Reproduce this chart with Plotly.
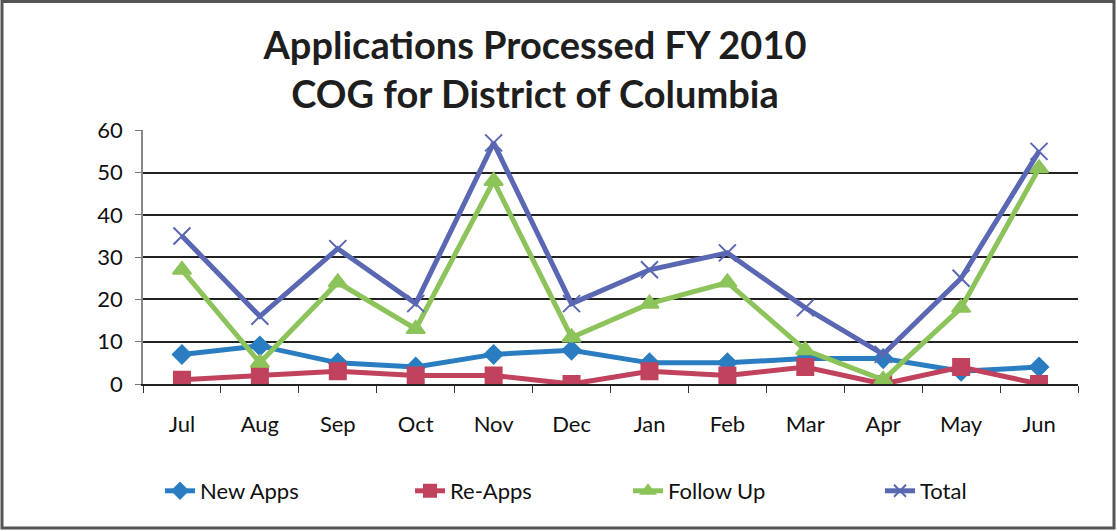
import plotly.graph_objects as go

months = ["Jul", "Aug", "Sep", "Oct", "Nov", "Dec", "Jan", "Feb", "Mar", "Apr", "May", "Jun"]
new_apps = [7, 9, 5, 4, 7, 8, 5, 5, 6, 6, 3, 4]
re_apps = [1, 2, 3, 2, 2, 0, 3, 2, 4, 0, 4, 0]
follow_up = [27, 5, 24, 13, 48, 11, 19, 24, 8, 1, 18, 51]
total = [35, 16, 32, 19, 57, 19, 27, 31, 18, 7, 25, 55]

W, H = 1117, 531
L, R, T, B = 143, 39, 130, 147
FONT = "Lato"
pw = W - L - R
ph = H - T - B

fig = go.Figure()
series = [
    ("New Apps", new_apps, "#2a7dc0", "diamond", 14, 160),
    ("Re-Apps", re_apps, "#c0425c", "square", 16, 410),
    ("Follow Up", follow_up, "#8cc35a", "triangle-up", 16, 628),
    ("Total", total, "#5a67b3", "x-thin", 17, 880),
]
legend_layouts = {}
for i, (name, vals, col, sym, sz, lx) in enumerate(series):
    lg = "legend" if i == 0 else f"legend{i + 1}"
    fig.add_trace(go.Scatter(
        x=months, y=vals, name=name, mode="lines+markers",
        line=dict(color=col, width=5),
        marker=dict(symbol=sym, size=sz, color=col, line=dict(color=col, width=2)),
        legend=lg,
    ))
    legend_layouts[lg] = dict(
        orientation="h", x=(lx - L) / pw, xanchor="left",
        y=-(491 - 384) / ph, yanchor="middle",
        font=dict(family=FONT, size=22, color="#111111"),
        bgcolor="rgba(0,0,0,0)",
        itemsizing="constant",
    )

# outer frame of the chart
fig.add_shape(type="rect", xref="paper", yref="paper",
              x0=-(L - 2) / pw, x1=1 + (R - 3) / pw,
              y0=-(B - 3) / ph, y1=1 + (T - 1.5) / ph,
              line=dict(color="#555555", width=3))

fig.update_layout(
    width=W, height=H,
    margin=dict(l=L, r=R, t=T, b=B, autoexpand=False),
    paper_bgcolor="white", plot_bgcolor="white",
    font=dict(family=FONT, size=22, color="#111111"),
    title=dict(text="<b>Applications Processed FY 2010<br>COG for District of Columbia</b>",
               x=535 / W, xanchor="center", y=1 - 59 / H, yanchor="middle",
               font=dict(family=FONT, size=38, color="#1e1e1e")),
    xaxis=dict(type="category", tickson="boundaries", ticks="outside", ticklen=7,
               tickcolor="#333333", showline=True, linecolor="#222222", linewidth=2,
               showgrid=False, tickfont=dict(size=22), range=[-0.5, 11.5],
               ticklabelstandoff=20),
    yaxis=dict(range=[0, 60.05], tickvals=[0, 10, 20, 30, 40, 50, 60], showgrid=True,
               gridcolor="#222222", gridwidth=1.5,
               ticks="outside", ticklen=6, tickcolor="#777777", showline=True,
               linecolor="#888888", linewidth=1.5, zeroline=False, tickfont=dict(size=22),
               ticklabelstandoff=8),
    showlegend=True,
    **legend_layouts,
)

fig.write_html(
    "out.html",
    config={"displayModeBar": False},
    post_script="document.body.style.margin='0';document.body.style.overflow='hidden';",
)
